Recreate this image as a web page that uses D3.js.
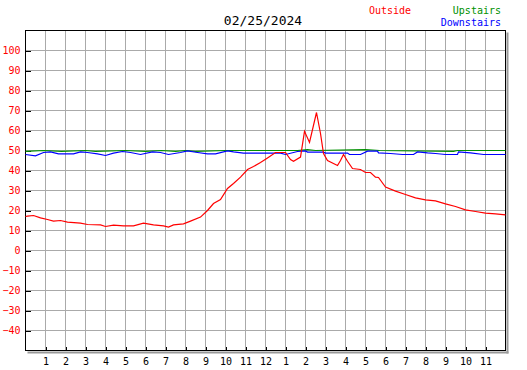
<!DOCTYPE html>
<html>
<head>
<meta charset="utf-8">
<script src="https://cdn.jsdelivr.net/npm/d3@7"></script>
<style>
  body { margin: 0; background: #fff; }
  svg { display: block; }
  text { font-family: "DejaVu Sans Mono", monospace; }
</style>
</head>
<body>
<svg width="527" height="370"></svg>
<script>
const title = "02/25/2024";

// hours since midnight, temperatures in F
const outsideHours = [0, 0.1, 0.4, 0.75, 1.1, 1.4, 1.75, 2.1, 2.75, 3.1, 3.75, 4, 4.4, 4.9, 5.4, 5.9, 6.4, 6.9, 7.15, 7.4, 7.9, 8.25, 8.75, 9.1, 9.4, 9.75, 10.1, 10.4, 10.75, 11.1, 11.4, 11.75, 12.1, 12.5, 13, 13.25, 13.4, 13.75, 13.95, 14.2, 14.55, 14.75, 14.9, 15.1, 15.6, 15.75, 15.9, 16.1, 16.35, 16.75, 17, 17.25, 17.5, 17.65, 18, 18.5, 19, 19.5, 20, 20.5, 21, 21.5, 22, 22.5, 23, 23.5, 24];
const outsideTemps = [17, 17.2, 17.5, 16.3, 15.5, 14.7, 15, 14.2, 13.7, 13, 12.8, 12, 12.7, 12.3, 12.3, 13.7, 12.8, 12.3, 11.7, 12.8, 13.3, 14.7, 16.7, 20, 23.5, 25.5, 31, 33.5, 36.7, 40.5, 42, 44, 46.3, 49, 49, 45.5, 44.6, 46.7, 59.6, 54, 69, 58.5, 48.5, 45, 42.5, 45, 48, 44.6, 41, 40.5, 39, 39, 36.7, 36.5, 31.7, 29.7, 28, 26.3, 25.3, 24.8, 23.3, 22, 20.3, 19.5, 18.7, 18.3, 17.8];

const upstairsHours = [0, 0.9, 1.8, 3, 3.5, 5, 6, 6.8, 7.5, 8, 8.5, 10, 13.6, 14.1, 14.5, 17, 17.7, 21.4, 21.6, 24];
const upstairsTemps = [49.6, 50, 49.6, 50, 49.6, 50, 49.6, 50, 49.6, 50, 49.6, 50, 50, 50.4, 50, 50.4, 50, 49.6, 50, 50];

const downstairsHours = [0, 0.5, 0.9, 1.25, 1.65, 2.4, 2.75, 3.1, 3.6, 4, 4.4, 4.85, 5.25, 5.75, 6.35, 6.75, 7.15, 7.75, 8.1, 8.6, 9.1, 9.5, 10.1, 10.4, 10.9, 12.75, 13, 13.6, 14, 14.1, 14.9, 15, 16.1, 16.2, 16.75, 17.1, 17.6, 17.65, 18.25, 18.85, 19.4, 19.6, 20.1, 20.5, 21, 21.6, 21.65, 22.25, 22.9, 24];
const downstairsTemps = [48, 47.3, 49, 49.3, 48.3, 48.3, 49.3, 49, 48.3, 47.5, 48.7, 49.5, 49, 48, 49.3, 49, 48, 49, 49.8, 49, 48.3, 48.3, 49.8, 49.3, 48.7, 48.7, 48, 49.5, 49.8, 49.2, 49.2, 48.7, 48.7, 48, 48, 49.7, 49.7, 48.8, 48.5, 48, 48, 49.3, 48.8, 48.5, 48, 48, 49.3, 48.8, 48, 48];

const yTicks = [100, 90, 80, 70, 60, 50, 40, 30, 20, 10, 0, -10, -20, -30, -40];
const hourTicks = d3.range(1, 24);

const svg = d3.select("svg");
const x = d3.scaleLinear().domain([0, 24]).range([25, 505]);
const y = d3.scaleLinear().domain([-50, 110]).range([350, 30]);

const g = svg.append("g").attr("transform", "translate(0.5,0.5)");

// grid
g.append("g").selectAll("line").data(hourTicks).join("line")
  .attr("x1", d => x(d)).attr("x2", d => x(d))
  .attr("y1", y(110)).attr("y2", y(-50))
  .attr("stroke", "#aaa").attr("shape-rendering", "crispEdges");
g.append("g").selectAll("line").data(yTicks).join("line")
  .attr("x1", x(0)).attr("x2", x(24))
  .attr("y1", d => y(d)).attr("y2", d => y(d))
  .attr("stroke", "#aaa").attr("shape-rendering", "crispEdges");

// shadow on right and bottom
g.append("rect").attr("x", x(24) + 1).attr("y", y(110) + 2)
  .attr("width", 2).attr("height", y(-50) - y(110) + 1).attr("fill", "#999");
g.append("rect").attr("x", x(0) + 2).attr("y", y(-50) + 1)
  .attr("width", x(24) - x(0) + 1).attr("height", 2).attr("fill", "#999");

// frame
g.append("rect").attr("x", x(0)).attr("y", y(110))
  .attr("width", x(24) - x(0)).attr("height", y(-50) - y(110))
  .attr("fill", "none").attr("stroke", "#000").attr("shape-rendering", "crispEdges");

// axes
const yAxis = g.append("g").attr("transform", `translate(${x(0)},0)`)
  .call(d3.axisLeft(y).tickValues(yTicks).tickSize(-5).tickPadding(5));
yAxis.select(".domain").remove();
yAxis.selectAll("line").attr("stroke", "#000").attr("shape-rendering", "crispEdges");
yAxis.selectAll("text").attr("fill", "red").style("font-size", "10px")
  .style("font-family", "DejaVu Sans Mono");

const xAxis = g.append("g").attr("transform", `translate(0,${y(-50)})`)
  .call(d3.axisBottom(x).tickValues(hourTicks).tickSize(-4).tickPadding(7)
    .tickFormat(h => h > 12 ? h - 12 : h));
xAxis.select(".domain").remove();
xAxis.selectAll("line").attr("stroke", "#000").attr("shape-rendering", "crispEdges");
xAxis.selectAll("text").attr("fill", "#000").style("font-size", "10px")
  .style("font-family", "DejaVu Sans Mono");

// series
const line = d3.line().x(d => x(d[0])).y(d => y(d[1]));
const series = [
  { hours: upstairsHours, temps: upstairsTemps, color: "#009000" },
  { hours: downstairsHours, temps: downstairsTemps, color: "#0000ff" },
  { hours: outsideHours, temps: outsideTemps, color: "#ff0000" }
];
series.forEach(s => {
  g.append("path")
    .attr("d", line(d3.zip(s.hours, s.temps)))
    .attr("fill", "none").attr("stroke", s.color).attr("stroke-width", 1.2);
});

// title and legend
svg.append("text").attr("x", 263).attr("y", 25).attr("text-anchor", "middle")
  .style("font-size", "13px").attr("fill", "#000").text(title);
svg.append("text").attr("x", 369).attr("y", 14).style("font-size", "10px")
  .attr("fill", "red").text("Outside");
svg.append("text").attr("x", 501).attr("y", 14).attr("text-anchor", "end")
  .style("font-size", "10px").attr("fill", "#009000").text("Upstairs");
svg.append("text").attr("x", 501).attr("y", 26).attr("text-anchor", "end")
  .style("font-size", "10px").attr("fill", "#0000ff").text("Downstairs");
</script>
</body>
</html>
